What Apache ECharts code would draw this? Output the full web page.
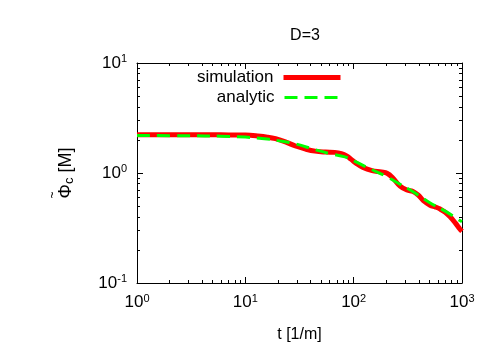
<!DOCTYPE html>
<html>
<head>
<meta charset="utf-8">
<script src="https://cdn.jsdelivr.net/npm/echarts@6/dist/echarts.min.js"></script>
<style>
  html, body { margin: 0; padding: 0; background: #fff; }
  #main { width: 500px; height: 350px; }
</style>
</head>
<body>
<div id="main"></div>
<script>
// values
var simT   = [1, 2, 4, 7, 10, 13, 16, 19, 24, 29, 36, 44, 55, 67, 77, 86, 95, 105, 122, 148, 180, 205, 230, 268, 310, 353, 395, 440, 507, 570, 628, 700, 777, 870, 955, 1000];
var simPhi = [2.23, 2.23, 2.23, 2.22, 2.21, 2.17, 2.12, 2.05, 1.90, 1.76, 1.65, 1.58, 1.55, 1.54, 1.50, 1.43, 1.33, 1.23, 1.12, 1.05, 1.02, 0.99, 0.90, 0.76, 0.70, 0.68, 0.63, 0.56, 0.51, 0.49, 0.47, 0.44, 0.40, 0.35, 0.31, 0.295];
var anaT   = [1, 3, 6, 10, 15, 20, 29, 44, 60, 83, 100, 148, 200, 268, 350, 500, 700, 1000];
var anaPhi = [2.19, 2.18, 2.16, 2.12, 2.05, 1.97, 1.84, 1.63, 1.50, 1.40, 1.29, 1.07, 0.93, 0.79, 0.68, 0.54, 0.45, 0.36];

function pairs(xs, ys) {
  return xs.map(function (x, i) { return [x, ys[i]]; });
}

var FONT = 'Liberation Sans';
function powLabel(v) {
  return '10{sup|' + Math.round(Math.log10(v)) + '}';
}
var labelRich = {
  sup: { fontSize: 11, fontFamily: FONT, color: '#000', verticalAlign: 'top', padding: [0, 0, 8, 0] }
};

var chart = echarts.init(document.getElementById('main'));

function logAxis(pos, min, max, showLabels) {
  return {
    type: 'log',
    logBase: 10,
    position: pos,
    min: min,
    max: max,
    axisLine: { show: true, onZero: false, lineStyle: { color: '#000', width: 1 } },
    axisTick: { show: true, inside: true, length: 6, lineStyle: { color: '#000' } },
    minorTick: { show: true, splitNumber: 9, length: 3, lineStyle: { color: '#000' } },
    splitLine: { show: false },
    axisLabel: {
      show: showLabels,
      formatter: powLabel,
      fontSize: 17,
      fontFamily: FONT,
      color: '#000',
      margin: 10,
      rich: labelRich
    }
  };
}

var xMain = logAxis('bottom', 1, 1000, true);
xMain.name = 't [1/m]';
xMain.nameLocation = 'middle';
xMain.nameGap = 44;
xMain.nameTextStyle = { fontSize: 16, fontFamily: FONT, color: '#000' };

var legendText = { fontSize: 17, fontFamily: FONT, color: '#000', padding: [0, 5, 0, 0] };

chart.setOption({
  animation: false,
  backgroundColor: '#fff',
  title: {
    text: 'D=3',
    left: 300,
    top: 23,
    textAlign: 'center',
    textStyle: { fontSize: 16, fontWeight: 'normal', fontFamily: FONT, color: '#000' }
  },
  legend: [
    {
      data: ['simulation'],
      right: 152,
      top: 64,
      align: 'right',
      itemWidth: 57,
      itemHeight: 14,
      itemStyle: { opacity: 0 },
      lineStyle: { color: '#ff0000', width: 5 },
      textStyle: legendText
    },
    {
      data: ['analytic'],
      right: 152,
      top: 84,
      align: 'right',
      itemWidth: 57,
      itemHeight: 14,
      itemStyle: { opacity: 0 },
      lineStyle: { color: '#00ff00', width: 3, type: [13, 7] },
      textStyle: legendText
    }
  ],
  graphic: [
    {
      type: 'group',
      x: 66,
      y: 173,
      rotation: Math.PI / 2,
      children: [
        {
          type: 'text',
          style: {
            text: '{a|Φ}{sub|c}{a| [M]}',
            align: 'center',
            verticalAlign: 'middle',
            rich: {
              a: { fontSize: 18, fontFamily: FONT, fill: '#000' },
              sub: { fontSize: 13, fontFamily: FONT, fill: '#000', verticalAlign: 'bottom', padding: [7, 0, 0, 0] }
            }
          }
        },
        {
          type: 'text',
          x: -22,
          y: -13,
          style: { text: '~', fontSize: 12, fontFamily: FONT, fill: '#000', align: 'center', verticalAlign: 'middle' }
        }
      ]
    }
  ],
  grid: { left: 137, right: 38, top: 63, bottom: 67 },
  xAxis: [xMain, logAxis('top', 1, 1000, false)],
  yAxis: [logAxis('left', 0.1, 10, true), logAxis('right', 0.1, 10, false)],
  series: [
    {
      name: 'simulation',
      type: 'line',
      symbol: 'none',
      smooth: 0.4,
      color: '#ff0000',
      lineStyle: { color: '#ff0000', width: 5 },
      data: pairs(simT, simPhi)
    },
    {
      name: 'analytic',
      type: 'line',
      symbol: 'none',
      smooth: 0.4,
      color: '#00ff00',
      lineStyle: { color: '#00ff00', width: 3, type: [13, 7] },
      data: pairs(anaT, anaPhi)
    }
  ]
});
</script>
</body>
</html>
